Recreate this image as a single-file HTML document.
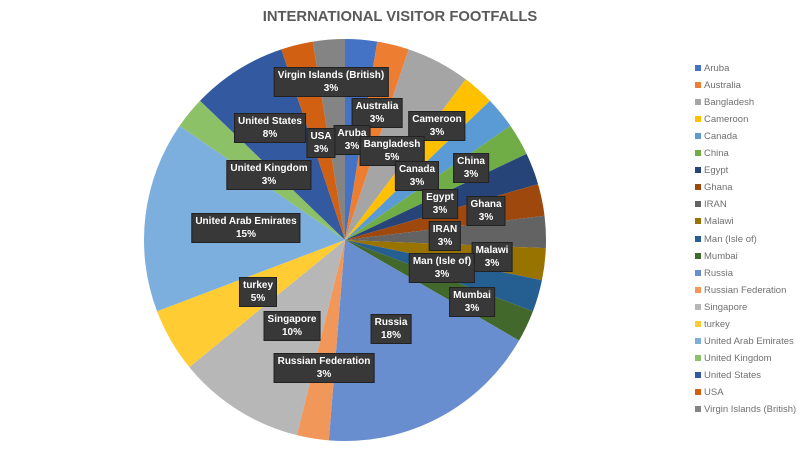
<!DOCTYPE html>
<html><head><meta charset="utf-8"><style>
html,body{margin:0;padding:0;}
body{width:800px;height:450px;background:#fff;position:relative;overflow:hidden;font-family:"Liberation Sans",sans-serif;}
.t{position:absolute;left:0;width:800px;top:9px;text-align:center;font-size:14.8px;font-weight:bold;color:#595959;}
.lb{position:absolute;transform:translate(-50%,-50%);background:#383838;border:1px solid #222;color:#fff;font-size:10px;font-weight:bold;line-height:13px;text-align:center;padding:1px 3px;white-space:nowrap;}
.lg{position:absolute;left:695px;font-size:9.5px;color:#707070;line-height:12px;}
.lg i{display:inline-block;width:6px;height:6px;margin-right:3px;vertical-align:0px;}
</style></head><body>
<div class="t">INTERNATIONAL VISITOR FOOTFALLS</div>
<svg id="s" width="800" height="450" style="position:absolute;left:0;top:0"></svg>
<div id="labels"></div>
<div id="legend"></div>
<script>
var d=[["Aruba",1,"#4472C4"],["Australia",1,"#ED7D31"],["Bangladesh",2,"#A5A5A5"],["Cameroon",1,"#FFC000"],["Canada",1,"#5B9BD5"],["China",1,"#70AD47"],["Egypt",1,"#264478"],["Ghana",1,"#9E480E"],["IRAN",1,"#636363"],["Malawi",1,"#997300"],["Man (Isle of)",1,"#255E91"],["Mumbai",1,"#43682B"],["Russia",7,"#698ED0"],["Russian Federation",1,"#F1975A"],["Singapore",4,"#B7B7B7"],["turkey",2,"#FFCD33"],["United Arab Emirates",6,"#7CAFDD"],["United Kingdom",1,"#8CC168"],["United States",3,"#335AA1"],["USA",1,"#D26012"],["Virgin Islands (British)",1,"#848484"]];
var cx=345,cy=240,r=201,tot=39,a=0,h="";
d.forEach(function(e){var a2=a+e[1]/tot*2*Math.PI;
var x1=cx+r*Math.sin(a),y1=cy-r*Math.cos(a),x2=cx+r*Math.sin(a2),y2=cy-r*Math.cos(a2);
h+='<path d="M'+cx+','+cy+'L'+x1+','+y1+'A'+r+','+r+' 0 '+((a2-a)>Math.PI?1:0)+' 1 '+x2+','+y2+'Z" fill="'+e[2]+'"/>';a=a2;});
document.getElementById('s').innerHTML=h;
var L=[["Virgin Islands (British)","3%",331,82],["Australia","3%",377,113],["Aruba","3%",352,140],["Cameroon","3%",437,126],["Bangladesh","5%",392,151],["United States","8%",270,128],["USA","3%",321,143],["China","3%",471,168],["Canada","3%",417,176],["United Kingdom","3%",269,175],["Egypt","3%",440,204],["Ghana","3%",486,211],["United Arab Emirates","15%",246,228],["IRAN","3%",445,236],["Malawi","3%",492,257],["Man (Isle of)","3%",442,268],["Mumbai","3%",472,302],["turkey","5%",258,292],["Singapore","10%",292,326],["Russia","18%",391,329],["Russian Federation","3%",324,368]];
var lh="";L.forEach(function(e){lh+='<div class="lb" style="left:'+e[2]+'px;top:'+e[3]+'px">'+e[0]+'<br>'+e[1]+'</div>';});
document.getElementById('labels').innerHTML=lh;
var g="";d.forEach(function(e,i){g+='<div class="lg" style="top:'+(63+i*17.05)+'px"><i style="background:'+e[2]+'"></i>'+e[0]+'</div>';});
document.getElementById('legend').innerHTML=g;
</script>
</body></html>
